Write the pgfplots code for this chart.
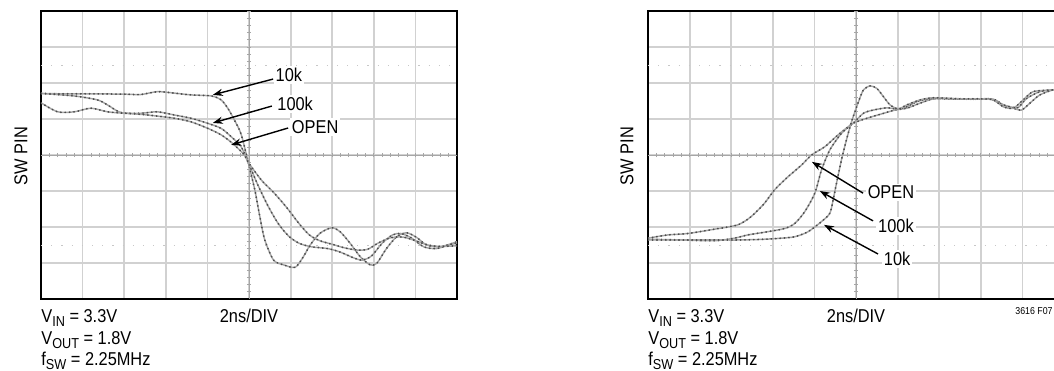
\documentclass[border=0pt]{standalone}
\usepackage{fontspec}
\setmainfont{Liberation Sans}[FakeStretch=0.88]
\usepackage{pgfplots}
\usepackage{pgfplotstable}
\pgfplotsset{compat=1.18}
\usetikzlibrary{arrows.meta}

% ---------- left panel (falling edge) ----------
\pgfplotstableread{
x y
0 5.71
0.5 5.70
1.2 5.70
2.0 5.69
2.4 5.68
2.8 5.76
3.2 5.72
3.6 5.67
4.1 5.64
4.33 5.53
4.49 5.30
4.65 4.97
4.81 4.58
4.98 3.80
5.14 3.03
5.26 2.29
5.38 1.64
5.59 1.08
5.83 0.95
6.11 0.88
6.31 1.18
6.47 1.50
6.71 1.83
6.99 1.98
7.19 1.87
7.43 1.55
7.67 1.18
7.91 0.95
8.07 0.99
8.31 1.41
8.55 1.73
8.79 1.84
9.03 1.71
9.27 1.50
9.59 1.45
10 1.59
}\LtenK
\pgfplotstableread{
x y
0 5.71
0.8 5.64
1.36 5.53
1.6 5.39
1.92 5.18
2.4 5.16
2.8 5.20
3.21 5.11
3.61 5.02
4.01 4.88
4.33 4.74
4.57 4.51
4.81 4.23
4.98 3.80
5.2 3.20
5.45 2.60
5.7 2.10
5.95 1.75
6.2 1.55
6.5 1.45
6.9 1.40
7.2 1.30
7.5 1.15
7.72 1.08
7.95 1.20
8.2 1.55
8.45 1.78
8.65 1.82
8.9 1.70
9.2 1.45
9.5 1.40
9.8 1.50
10 1.55
}\LhundK
\pgfplotstableread{
x y
0 5.45
0.4 5.20
0.8 5.20
1.2 5.30
1.6 5.20
2.0 5.16
2.4 5.13
2.8 5.08
3.21 5.02
3.61 4.92
4.01 4.74
4.33 4.56
4.61 4.32
4.89 4.00
4.98 3.80
5.3 3.30
5.6 2.95
5.9 2.55
6.2 2.10
6.45 1.78
6.7 1.62
7.0 1.52
7.3 1.42
7.6 1.36
7.85 1.38
8.1 1.55
8.4 1.70
8.7 1.72
9.0 1.62
9.3 1.50
9.6 1.46
10 1.48
}\LopenT

% ---------- right panel (rising edge) ----------
\pgfplotstableread{
x y
0 1.69
0.48 1.78
0.96 1.82
1.6 1.94
2.16 2.06
2.48 2.29
2.8 2.66
3.04 3.03
3.37 3.40
3.69 3.72
3.93 4.00
4.25 4.23
4.57 4.56
4.93 4.88
5.26 5.02
5.58 5.13
5.94 5.25
6.22 5.30
6.54 5.44
6.86 5.56
7.26 5.57
7.8 5.55
8.30 5.55
8.54 5.39
8.78 5.30
8.98 5.25
9.18 5.44
9.42 5.67
9.74 5.81
10 5.84
}\RopenT
\pgfplotstableread{
x y
0 1.66
0.8 1.64
1.6 1.62
2.08 1.69
2.4 1.78
2.88 1.87
3.29 1.96
3.53 2.10
3.77 2.43
4.01 2.94
4.17 3.58
4.37 4.14
4.65 4.60
4.93 4.88
5.18 5.16
5.42 5.25
5.74 5.31
5.98 5.28
6.22 5.34
6.46 5.48
6.78 5.57
7.18 5.56
7.82 5.55
8.22 5.56
8.46 5.43
8.70 5.34
8.90 5.32
9.10 5.57
9.42 5.76
9.74 5.81
10 5.84
}\RhundK
\pgfplotstableread{
x y
0 1.64
0.8 1.64
1.6 1.64
2.24 1.64
2.8 1.66
3.21 1.69
3.53 1.73
3.85 1.87
4.17 2.15
4.37 2.38
4.45 2.75
4.53 3.21
4.65 3.86
4.77 4.42
4.90 4.95
5.06 5.48
5.18 5.81
5.34 5.92
5.50 5.85
5.66 5.62
5.82 5.39
6.02 5.28
6.22 5.39
6.54 5.53
6.86 5.59
7.42 5.56
7.98 5.56
8.30 5.53
8.54 5.34
8.78 5.30
9.02 5.53
9.26 5.76
9.74 5.81
10 5.84
}\RtenK

\pgfplotsset{
  panel/.style={
    anchor=south west, width=208pt, height=144pt, scale only axis,
    xmin=0, xmax=10, ymin=0, ymax=8,
    xtick={1,...,9}, ytick={1,...,7},
    xticklabels={}, yticklabels={},
    major tick length=0pt,
    grid=major,
    major grid style={black!18, line width=0.9pt},
    axis line style={black, line width=1pt},
    clip=true,
  },
  tr/.style={color=black!35, line width=0.75pt, smooth, tension=0.45, no marks},
  trd/.style={color=black!70, line width=0.85pt, dash pattern=on 0.2pt off 2pt, line cap=round, smooth, tension=0.45, no marks},
}
\tikzset{
  lab/.style={fill=white, inner sep=1pt, font=\fontsize{9.3}{10}\selectfont},
  arr/.style={-{Stealth[length=5pt,width=3.6pt]}, line width=0.7pt, black},
}
\newcommand\cross{%
  \draw[black!35, line width=0.5pt] (axis cs:5,0)--(axis cs:5,8);
  \draw[black!35, line width=0.5pt] (axis cs:0,4)--(axis cs:10,4);
  \pgfplotsinvokeforeach{0.2,0.4,...,9.9}{\draw[black!35, line width=0.4pt] (axis cs:##1,3.94)--(axis cs:##1,4.06);}
  \pgfplotsinvokeforeach{0.2,0.4,...,7.9}{\draw[black!35, line width=0.4pt] (axis cs:4.95,##1)--(axis cs:5.05,##1);}
  \draw[black!22, line width=0.5pt, dash pattern=on 0.6pt off 4.5pt] (axis cs:0,1.5)--(axis cs:10,1.5);
  \draw[black!22, line width=0.5pt, dash pattern=on 0.6pt off 4.5pt] (axis cs:0,6.5)--(axis cs:10,6.5);
}
\newcommand\sub[1]{\raisebox{-1.9pt}{\fontsize{7.2}{8}\selectfont #1}}

\begin{document}
\begin{tikzpicture}[font=\fontsize{9.3}{10}\selectfont]
% ---------------- left ----------------
\begin{axis}[panel, at={(20.5pt,35.5pt)}]
  \cross
  \addplot[tr] table {\LtenK};
  \addplot[trd] table {\LtenK};
  \addplot[tr] table {\LhundK};
  \addplot[trd] table {\LhundK};
  \addplot[tr] table {\LopenT};
  \addplot[trd] table {\LopenT};
  \draw[arr] (axis cs:5.58,6.11) -- (axis cs:4.13,5.67);
  \draw[arr] (axis cs:5.55,5.36) -- (axis cs:4.13,4.89);
  \draw[arr] (axis cs:5.94,4.75) -- (axis cs:4.57,4.28);
  \node[lab] at (axis cs:5.96,6.22) {10k};
  \node[lab] at (axis cs:6.11,5.42) {100k};
  \node[lab] at (axis cs:6.59,4.78) {OPEN};
\end{axis}
% ---------------- right ----------------
\begin{axis}[panel, at={(324pt,35.5pt)}]
  \cross
  \addplot[tr] table {\RopenT};
  \addplot[trd] table {\RopenT};
  \addplot[tr] table {\RhundK};
  \addplot[trd] table {\RhundK};
  \addplot[tr] table {\RtenK};
  \addplot[trd] table {\RtenK};
  \draw[arr] (axis cs:5.17,2.94) -- (axis cs:3.94,3.81);
  \draw[arr] (axis cs:5.41,2.17) -- (axis cs:4.13,3.00);
  \draw[arr] (axis cs:5.53,1.25) -- (axis cs:4.23,2.06);
  \node[lab] at (axis cs:5.84,2.97) {OPEN};
  \node[lab] at (axis cs:5.96,2.03) {100k};
  \node[lab] at (axis cs:5.99,1.11) {10k};
\end{axis}
% ---------------- texts ----------------
\node[rotate=90] at (10.5pt,107pt) {SW PIN};
\node[rotate=90] at (313.5pt,107pt) {SW PIN};
\foreach \X in {20.5pt,324pt}{
  \node[anchor=base west, inner sep=0pt] at (\X,23.6pt) {V\sub{IN} = 3.3V};
  \node[anchor=base west, inner sep=0pt] at (\X,12.9pt) {V\sub{OUT} = 1.8V};
  \node[anchor=base west, inner sep=0pt] at (\X,2.4pt) {f\sub{SW} = 2.25MHz};
}
\node[anchor=base, inner sep=0pt] at (124.5pt,23.8pt) {2ns/DIV};
\node[anchor=base, inner sep=0pt] at (428pt,23.8pt) {2ns/DIV};
\node[anchor=base east, inner sep=0pt, font=\fontsize{5}{6}\selectfont] at (526.5pt,28pt) {3616 F07};
\pgfresetboundingbox
\useasboundingbox (0,0) rectangle (527pt,185pt);
\end{tikzpicture}
\end{document}
